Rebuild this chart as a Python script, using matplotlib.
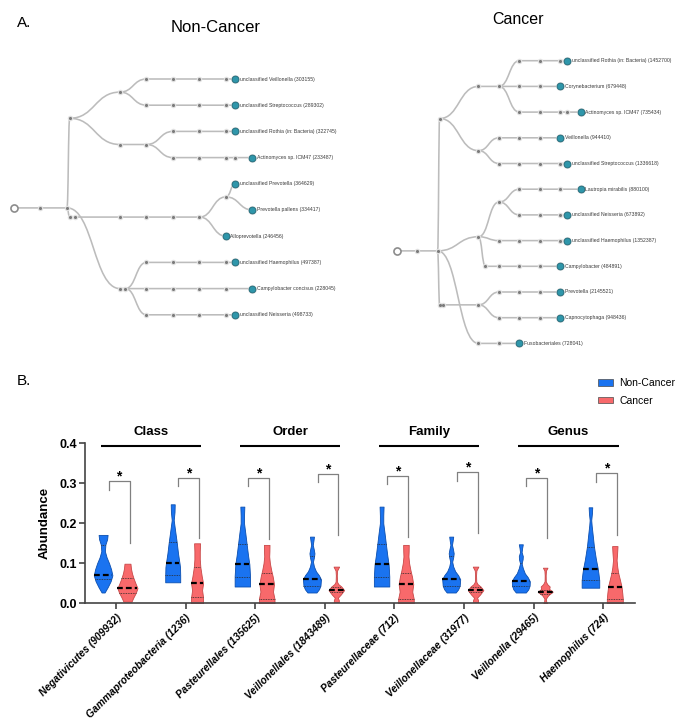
import numpy as np
import matplotlib
matplotlib.use('Agg')
import matplotlib.pyplot as plt
from matplotlib.path import Path
from matplotlib.patches import PathPatch, Patch

plt.rcParams['font.family'] = ['Liberation Sans', 'DejaVu Sans']

# ---------------- panel A: lineage trees ----------------
# (parent index, rank column, row, leaf label)
noncancer_tree = [
    (-1, 0, 4.92, ''), (0, 1, 4.92, ''), (1, 2, 4.92, ''),
    (2, 2.1, 1.5, ''), (3, 4, 0.5, ''),
    (4, 5, 0, ''), (5, 6, 0, ''), (6, 7, 0, ''), (7, 8, 0, ''),
    (8, 8.35, 0, 'unclassified Veillonella (303155)'),
    (4, 5, 1, ''), (10, 6, 1, ''), (11, 7, 1, ''), (12, 8, 1, ''),
    (13, 8.35, 1, 'unclassified Streptococcus (289302)'),
    (3, 4, 2.5, ''), (15, 5, 2.5, ''),
    (16, 6, 2, ''), (17, 7, 2, ''), (18, 8, 2, ''),
    (19, 8.35, 2, 'unclassified Rothia (in: Bacteria) (322745)'),
    (16, 6, 3, ''), (21, 7, 3, ''), (22, 8, 3, ''), (23, 8.35, 3, ''),
    (24, 9, 3, 'Actinomyces sp. ICM47 (233487)'),
    (2, 2.1, 5.27, ''), (26, 2.3, 5.27, ''), (27, 4, 5.27, ''),
    (28, 5, 5.27, ''), (29, 6, 5.27, ''), (30, 7, 5.27, ''),
    (31, 8, 4.5, ''),
    (32, 8.35, 4, 'unclassified Prevotella (364629)'),
    (32, 9, 5, 'Prevotella pallens (334417)'),
    (31, 8, 6, 'Alloprevotella (246456)'),
    (2, 4, 8, ''), (36, 4.2, 8, ''),
    (37, 5, 7, ''), (38, 6, 7, ''), (39, 7, 7, ''), (40, 8, 7, ''),
    (41, 8.35, 7, 'unclassified Haemophilus (497387)'),
    (37, 5, 8, ''), (43, 6, 8, ''), (44, 7, 8, ''), (45, 8, 8, ''),
    (46, 9, 8, 'Campylobacter concisus (228045)'),
    (37, 5, 9, ''), (48, 6, 9, ''), (49, 7, 9, ''), (50, 8, 9, ''),
    (51, 8.35, 9, 'unclassified Neisseria (498733)'),
]

cancer_tree = [
    (-1, 0, 7.4, ''), (0, 1, 7.4, ''), (1, 2, 7.4, ''),
    (2, 2.1, 2.25, ''), (3, 4, 1, ''), (4, 5, 1, ''),
    (5, 6, 0, ''), (6, 7, 0, ''), (7, 8, 0, ''),
    (8, 8.35, 0, 'unclassified Rothia (in: Bacteria) (1452700)'),
    (5, 6, 1, ''), (10, 7, 1, ''),
    (11, 8, 1, 'Corynebacterium (679448)'),
    (5, 6, 2, ''), (13, 7, 2, ''), (14, 8, 2, ''), (15, 8.35, 2, ''),
    (16, 9, 2, 'Actinomyces sp. ICM47 (735434)'),
    (3, 4, 3.5, ''),
    (18, 5, 3, ''), (19, 6, 3, ''), (20, 7, 3, ''),
    (21, 8, 3, 'Veillonella (944410)'),
    (18, 5, 4, ''), (23, 6, 4, ''), (24, 7, 4, ''), (25, 8, 4, ''),
    (26, 8.35, 4, 'unclassified Streptococcus (1336618)'),
    (2, 4, 6.85, ''), (28, 5, 5.5, ''),
    (29, 6, 5, ''), (30, 7, 5, ''), (31, 8, 5, ''),
    (32, 9, 5, 'Lautropia mirabilis (880100)'),
    (29, 6, 6, ''), (34, 7, 6, ''), (35, 8, 6, ''),
    (36, 8.35, 6, 'unclassified Neisseria (673892)'),
    (28, 5, 7, ''), (38, 6, 7, ''), (39, 7, 7, ''), (40, 8, 7, ''),
    (41, 8.35, 7, 'unclassified Haemophilus (1352387)'),
    (28, 4.34, 8, ''), (43, 5, 8, ''), (44, 6, 8, ''), (45, 7, 8, ''),
    (46, 8, 8, 'Campylobacter (484891)'),
    (2, 2.1, 9.5, ''), (48, 2.25, 9.5, ''), (49, 4, 9.5, ''),
    (50, 5, 9, ''), (51, 6, 9, ''), (52, 7, 9, ''),
    (53, 8, 9, 'Prevotella (2145521)'),
    (50, 5, 10, ''), (55, 6, 10, ''), (56, 7, 10, ''),
    (57, 8, 10, 'Capnocytophaga (948436)'),
    (2, 4, 11, ''), (59, 5, 11, ''),
    (60, 6, 11, 'Fusobacteriales (728041)'),
]

# ---------------- panel B: violins ----------------
categories = ['Negativicutes (909932)', 'Gammaproteobacteria (1236)',
              'Pasteurellales (135625)', 'Veillonellales (1843489)',
              'Pasteurellaceae (712)', 'Veillonellaceae (31977)',
              'Veillonella (29465)', 'Haemophilus (724)']
rank_groups = ['Class', 'Order', 'Family', 'Genus']

# violin outlines: abundance levels and half width (px)
nc_levels = [
    [0.027, 0.04, 0.055, 0.07, 0.085, 0.10, 0.115, 0.13, 0.147, 0.16, 0.171],
    [0.0525, 0.07, 0.09, 0.10, 0.125, 0.1525, 0.18, 0.208, 0.228, 0.2475],
    [0.042, 0.067, 0.085, 0.098, 0.12, 0.148, 0.175, 0.20, 0.22, 0.2417],
    [0.027, 0.035, 0.044, 0.06, 0.07, 0.08, 0.092, 0.104, 0.115, 0.125, 0.135, 0.146, 0.157, 0.1667],
    [0.042, 0.067, 0.085, 0.098, 0.12, 0.148, 0.175, 0.20, 0.22, 0.2417],
    [0.027, 0.035, 0.044, 0.06, 0.07, 0.08, 0.092, 0.104, 0.115, 0.125, 0.135, 0.146, 0.157, 0.1667],
    [0.027, 0.035, 0.044, 0.055, 0.065, 0.075, 0.088, 0.10, 0.11, 0.118, 0.128, 0.138, 0.1475],
    [0.039, 0.058, 0.075, 0.087, 0.11, 0.142, 0.17, 0.195, 0.208, 0.225, 0.24],
]
nc_width = [
    [1.5, 4.5, 7.5, 9.3, 8.0, 6.0, 3.5, 1.8, 2.3, 4.0, 4.5],
    [7.5, 7.5, 7.3, 6.8, 5.3, 4.0, 2.5, 1.0, 1.8, 2.0],
    [7.7, 7.7, 7.3, 7.0, 5.7, 4.3, 3.0, 1.7, 1.7, 2.0],
    [4.5, 7.0, 8.5, 9.0, 7.0, 4.0, 2.0, 1.0, 2.0, 2.5, 1.8, 0.8, 1.5, 2.0],
    [7.7, 7.7, 7.3, 7.0, 5.7, 4.3, 3.0, 1.7, 1.7, 2.0],
    [4.5, 7.0, 8.5, 9.0, 7.0, 4.0, 2.0, 1.0, 2.0, 2.5, 1.8, 0.8, 1.5, 2.0],
    [5.0, 7.5, 8.8, 9.0, 7.0, 4.0, 2.0, 0.8, 1.8, 2.0, 0.8, 1.3, 2.0],
    [8.8, 8.8, 8.0, 7.3, 5.5, 3.5, 2.3, 1.2, 0.8, 1.5, 1.8],
]
nc_quart = [(0.062, 0.0715, 0.147), (0.07, 0.1007, 0.1525), (0.067, 0.098, 0.148),
            (0.044, 0.06, 0.118), (0.067, 0.098, 0.148), (0.044, 0.06, 0.118),
            (0.043, 0.056, 0.10), (0.058, 0.0867, 0.142)]

c_levels = [
    [0.004, 0.015, 0.027, 0.038, 0.05, 0.063, 0.075, 0.087, 0.099],
    [0.0, 0.015, 0.033, 0.05, 0.067, 0.09, 0.11, 0.13, 0.15],
    [0.0, 0.011, 0.029, 0.048, 0.067, 0.083, 0.10, 0.117, 0.13, 0.146],
    [0.003, 0.008, 0.014, 0.022, 0.033, 0.042, 0.048, 0.054, 0.07, 0.082, 0.0917],
    [0.0, 0.011, 0.029, 0.048, 0.067, 0.083, 0.10, 0.117, 0.13, 0.146],
    [0.003, 0.008, 0.014, 0.022, 0.033, 0.042, 0.048, 0.054, 0.07, 0.082, 0.0917],
    [0.0, 0.005, 0.012, 0.02, 0.029, 0.036, 0.042, 0.048, 0.055, 0.07, 0.082, 0.089],
    [0.0, 0.011, 0.025, 0.042, 0.06, 0.075, 0.09, 0.108, 0.125, 0.143],
]
c_width = [
    [4.0, 6.0, 8.5, 10.0, 8.0, 6.0, 4.5, 3.5, 3.0],
    [6.0, 6.0, 5.0, 6.0, 4.7, 3.3, 2.7, 2.7, 3.0],
    [7.8, 7.8, 6.3, 7.3, 6.0, 4.5, 3.2, 2.5, 2.7, 2.8],
    [2.5, 2.5, 1.5, 4.5, 7.8, 5.0, 2.0, 0.7, 0.5, 0.8, 2.8],
    [7.8, 7.8, 6.3, 7.3, 6.0, 4.5, 3.2, 2.5, 2.7, 2.8],
    [2.5, 2.5, 1.5, 4.5, 7.8, 5.0, 2.0, 0.7, 0.5, 0.8, 2.8],
    [1.8, 1.0, 0.8, 3.0, 7.5, 4.0, 4.5, 2.0, 0.6, 0.5, 0.8, 2.3],
    [8.0, 8.0, 7.5, 6.7, 5.0, 3.5, 2.5, 1.8, 2.3, 2.7],
]
c_quart = [(0.026, 0.038, 0.063), (0.015, 0.051, 0.0917), (0.011, 0.048, 0.077),
           (0.028, 0.033, 0.042), (0.011, 0.048, 0.077), (0.028, 0.033, 0.042),
           (0.024, 0.029, 0.034), (0.011, 0.042, 0.075)]

# significance brackets
br_top = [0.306, 0.314, 0.3125, 0.3225, 0.318, 0.3275, 0.314, 0.325]
br_left = [0.283, 0.294, 0.293, 0.3025, 0.2975, 0.3067, 0.294, 0.303]
br_right = [0.152, 0.1625, 0.161, 0.171, 0.1667, 0.175, 0.1625, 0.171]

blue, blue_edge = '#1a73f0', '#0b4fb0'
red, red_edge = '#f8696b', '#c84848'

fig = plt.figure(figsize=(6.85, 7.27), dpi=100)

# ---- trees
ax_t = fig.add_axes([0, 0, 1, 1])
ax_t.set_xlim(0, 685)
ax_t.set_ylim(727, 0)
ax_t.axis('off')


def draw_tree(ax, nodes, x0, dx, y0, dy):
    xs = [x0 + n[1] * dx for n in nodes]
    ys = [y0 + n[2] * dy for n in nodes]
    for i, (p, c, r, lab) in enumerate(nodes):
        if p < 0:
            continue
        xa, ya, xb, yb = xs[p], ys[p], xs[i], ys[i]
        xm = (xa + xb) / 2
        path = Path([(xa, ya), (xm, ya), (xm, yb), (xb, yb)],
                    [Path.MOVETO, Path.CURVE4, Path.CURVE4, Path.CURVE4])
        ax.add_patch(PathPatch(path, fc='none', ec='#bcbcbc', lw=1.15, zorder=1))
    inner = [i for i, n in enumerate(nodes) if n[0] >= 0 and not n[3]]
    leaves = [i for i, n in enumerate(nodes) if n[3]]
    ax.scatter([xs[i] for i in inner], [ys[i] for i in inner], s=16,
               color='#e2e2e2', zorder=2, lw=0)
    ax.scatter([xs[i] for i in inner], [ys[i] for i in inner], s=5,
               color='#7b7b7b', zorder=3, lw=0)
    ax.scatter([xs[0]], [ys[0]], s=26, facecolor='white', edgecolor='#8c8c8c',
               lw=1.2, zorder=3)
    ax.scatter([xs[i] for i in leaves], [ys[i] for i in leaves], s=40,
               color='#dddddd', zorder=2, lw=0)
    ax.scatter([xs[i] for i in leaves], [ys[i] for i in leaves], s=24,
               facecolor='#2f96aa', edgecolor='#1e6676', lw=0.6, zorder=3)
    for i in leaves:
        ax.text(xs[i] + 4.5, ys[i], nodes[i][3], fontsize=3.7, color='#3a3a3a',
                va='center', ha='left')


draw_tree(ax_t, noncancer_tree, 14, 26.5, 79, 26.2)
draw_tree(ax_t, cancer_tree, 396.7, 20.45, 60.7, 25.7)

ax_t.text(17, 23, 'A.', fontsize=11, va='center', ha='left')
ax_t.text(216, 27, 'Non-Cancer', fontsize=12, va='center', ha='center')
ax_t.text(518, 20, 'Cancer', fontsize=11.5, va='center', ha='center')
ax_t.text(17, 381, 'B.', fontsize=11, va='center', ha='left')

# ---- violins
ax = fig.add_axes([85 / 685, 123.7 / 727, 550 / 685, 160 / 727])
px_unit = 550 / 7.9
pos = np.arange(len(categories))

for i in pos:
    for off, fc, ec, lev, wid, qs in [(-0.185, blue, blue_edge, nc_levels[i], nc_width[i], nc_quart[i]),
                                      (0.165, red, red_edge, c_levels[i], c_width[i], c_quart[i])]:
        y = np.array(lev)
        w = np.array(wid) / px_unit
        cx = i + off
        ax.fill_betweenx(y, cx - w, cx + w, facecolor=fc, edgecolor=ec, lw=0.6, zorder=2)
        for k, q in enumerate(qs):
            hw = np.interp(q, y, w)
            if k == 1:
                ax.plot([cx - hw, cx + hw], [q, q], color='black', lw=1.6,
                        linestyle=(0, (2.6, 1.4)), zorder=3, solid_capstyle='butt')
            else:
                ax.plot([cx - hw, cx + hw], [q, q], color='#2a2a2a', lw=0.6,
                        linestyle=(0, (1, 1)), zorder=3)

# brackets and stars
for i in pos:
    xl, xr = i - 0.105, i + 0.195
    ax.plot([xl, xl, xr, xr], [br_left[i], br_top[i], br_top[i], br_right[i]],
            color='#808080', lw=0.9, clip_on=False, zorder=4)
    ax.text((xl + xr) / 2, br_top[i] + 0.0015, '*', fontsize=10, fontweight='bold',
            ha='center', va='baseline', clip_on=False)

# rank headers
for g, name in enumerate(rank_groups):
    c = 2 * g + 0.5
    ax.plot([c - 0.72, c + 0.72], [0.393, 0.393], color='black', lw=1.5,
            clip_on=False, solid_capstyle='butt')
    ax.text(c, 0.4275, name, fontsize=9.5, fontweight='bold', ha='center',
            va='center', clip_on=False)

ax.set_xlim(-0.445, 7.455)
ax.set_ylim(0, 0.4)
ax.set_yticks([0, 0.1, 0.2, 0.3, 0.4])
ax.set_yticklabels(['0.0', '0.1', '0.2', '0.3', '0.4'], fontsize=9, fontweight='bold')
ax.set_xticks(pos)
ax.set_xticklabels(categories, rotation=45, ha='right', rotation_mode='anchor',
                   fontsize=7.4, fontweight='bold', fontstyle='italic')
ax.tick_params(axis='both', length=4, width=1.2, color='#444444', pad=1.5)
ax.tick_params(axis='x', pad=2.5)
for s in ['top', 'right']:
    ax.spines[s].set_visible(False)
for s in ['left', 'bottom']:
    ax.spines[s].set_linewidth(1.2)
    ax.spines[s].set_color('#444444')
ax.set_ylabel('Abundance', fontsize=9.5, fontweight='bold')
ax.yaxis.set_label_coords(-0.062, 0.5)
ax.patch.set_alpha(0)

handles = [Patch(facecolor=blue, edgecolor='#4a4a4a', lw=0.5, label='Non-Cancer'),
           Patch(facecolor=red, edgecolor='#4a4a4a', lw=0.5, label='Cancer')]
ax.legend(handles=handles, loc='upper left', bbox_to_anchor=(598 / 685, 1 - 378 / 727),
          bbox_transform=fig.transFigure, frameon=False, fontsize=7.5,
          handlelength=1.45, handleheight=0.6, handletextpad=0.6,
          labelspacing=0.75, borderpad=0, borderaxespad=0)

fig.savefig('out.png', dpi=100)
